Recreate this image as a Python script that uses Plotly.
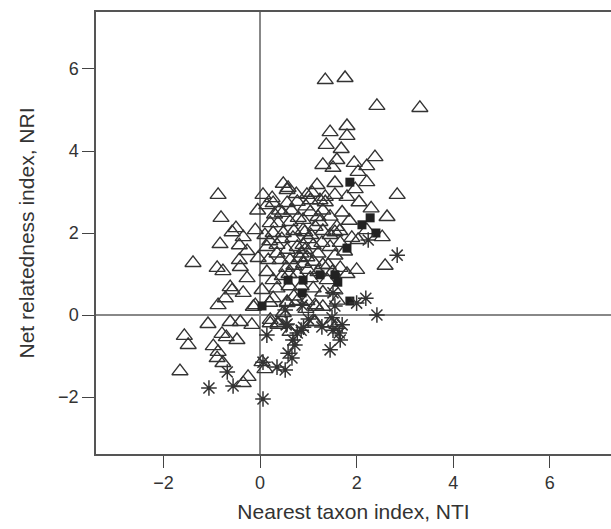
import plotly.graph_objects as go

# Open triangles
tri_x = [1.35, 1.76, 2.42, 3.31, 1.45, 1.80, 1.80, 1.37, 1.68, 1.59, 1.30, 1.51, 1.95, 2.38, 2.21, 2.03,
         1.55, 2.21, 1.97, 0.48, 0.58, 1.18, 2.84, 0.06, 0.97, 1.08, 1.35, 1.55, 1.80,
         2.63, 2.53, 2.59, 2.21, 2.03, 1.90, 1.59, 1.55, 1.28, 1.45, 1.66, 1.04, 1.24, 1.35,
         1.04, 1.20, 1.24, 1.14, 0.89, 0.93, 0.89, 0.93, 0.97, 1.30, 1.41, 1.66, 0.99, 1.04, 1.39, 1.14, 1.14,
         0.14, 0.27, 0.56, 0.56, 0.77, 0.46, 0.37, 0.21, 0.62, 0.79, 0.10, 0.27, 0.48, 0.68, 0.89,
         0.14, 0.35, 0.56, 0.77, 0.85, -0.04, 0.17, 0.41, 0.62, 0.83, 0.14, 0.27, 0.46, 0.77, 0.04,
         0.27, 0.56, -0.14, 0.21, 0.37,
         -1.39, -0.87, -0.81, -0.83, -0.89, -0.77, -0.58, -0.50, -0.43, -0.35, -0.27, -0.43, -0.41, -0.27,
         -0.62, -0.72, -0.58, -0.87, -0.35, -0.10, -1.08, -0.62, -0.41, -0.17, -1.57, -1.49, -0.79, -0.70,
         -0.48, -0.97, -0.87, -0.89, -0.77, -1.66, -0.25, -0.35, 0.10, 0.04, 0.21, 0.37, -0.10,
         0.56, 0.77, 0.97, 1.16, 1.12, 1.45, 1.59, 0.62, 0.48,
         0.30, 0.65, 0.95, 1.30, 1.45, 1.70, 1.85, 0.20, 0.45, 0.70, 1.05, 1.30, 1.45, 1.65, 1.75, 1.10,
         1.20, 1.55, 0.55, 0.70, 0.90, 1.10, 1.20, 1.50, 1.80, 2.00, 0.35, 0.60, 0.85, 1.10, 1.30, 1.55,
         0.20, 0.70, 0.95, 1.30, 1.60, 2.05, 2.30,
         0.25, 0.40, 0.75, -0.05, 0.35, 0.60, 1.00]
tri_y = [5.73, 5.78, 5.10, 5.05, 4.46, 4.61, 4.37, 4.15, 4.05, 3.78, 3.66, 3.59, 3.71, 3.85, 3.63, 3.49,
         3.22, 3.24, 3.07, 3.20, 3.10, 3.17, 2.93, 2.93, 2.93, 2.98, 2.88, 2.93, 2.88,
         2.39, 1.90, 1.20, 2.07, 1.83, 1.88, 2.15, 2.02, 1.76, 1.66, 1.76, 2.80, 2.80, 2.75,
         2.51, 2.39, 2.27, 2.15, 2.32, 2.02, 1.71, 1.59, 1.41, 1.22, 1.22, 1.15, 1.10, 0.90, 0.85, 0.24, -0.17,
         2.68, 2.73, 3.05, 2.73, 2.76, 2.49, 2.24, 2.24, 2.27, 2.37, 1.95, 2.00, 2.00, 1.88, 2.07,
         1.66, 1.71, 1.59, 1.66, 1.50, 1.39, 1.34, 1.34, 1.34, 1.39, 1.05, 0.85, 0.95, 1.00, 0.61,
         0.41, 0.32, 0.20, -0.12, -0.20,
         1.27, 2.93, 2.37, 1.73, 1.15, 1.07, 2.02, 2.12, 1.70, 1.90, 1.56, 1.34, 1.17, 0.90,
         0.68, 0.41, 0.60, 0.24, 0.54, 0.24, -0.22, -0.17, -0.17, -0.24, -0.51, -0.73, -0.46, -0.54,
         -0.61, -0.76, -0.90, -1.05, -1.17, -1.37, -1.51, -1.66, -1.32, -1.15, -0.20, -0.24, 2.07,
         0.29, 0.34, 0.34, 0.20, -0.17, -0.20, -0.24, -0.41, 0.05,
         2.45, 2.55, 2.65, 2.55, 2.40, 2.50, 2.30, 1.80, 1.85, 2.05, 1.95, 2.05, 1.95, 2.05, 1.55, 1.70,
         1.50, 1.45, 1.15, 1.20, 1.25, 1.30, 1.05, 1.05, 1.00, 1.10, 0.65, 0.70, 0.70, 0.65, 0.55, 0.60,
         0.30, 0.45, 0.15, 0.20, 0.35, 2.75, 2.60,
         2.85, 2.55, 2.95, 2.55, 1.50, 1.00, 1.85]

# Filled squares
sq_x = [1.86, 2.28, 2.11, 2.40, 1.80, 1.55, 1.61, 1.24, 0.89, 0.58, 0.87, 1.86, 0.04]
sq_y = [3.24, 2.37, 2.20, 2.00, 1.63, 0.98, 0.80, 0.98, 0.85, 0.85, 0.54, 0.34, 0.22]

# Asterisks
ast_x = [2.84, 2.24, 1.51, 1.55, 2.00, 2.19, 2.42, 0.52, 0.87, 0.54, 0.85, 0.68, 0.72, 0.58, 0.66, 0.52,
         1.28, 1.49, 1.51, 1.70, 1.64, 1.66, 1.45, -0.68, -1.06, -0.56, 0.06, 0.06, 0.56, 0.14, 0.35,
         0.77, 0.90, 1.00]
ast_y = [1.46, 1.83, 0.54, 0.22, 0.29, 0.41, 0.00, 0.12, 0.24, -0.24, -0.37, -0.61, -0.73, -0.93, -1.05, -1.34,
         -0.29, -0.07, -0.37, -0.24, -0.44, -0.61, -0.85, -1.39, -1.78, -1.73, -2.05, -1.15, -0.22, -0.49, -1.27,
         -0.44, -0.30, -0.10]

x_ticks = [-2, 0, 2, 4, 6]
y_ticks = [-2, 0, 2, 4, 6]

ink = "#333333"
fig = go.Figure()
fig.add_trace(go.Scatter(x=tri_x, y=tri_y, mode="markers",
                         marker=dict(symbol="triangle-up-open", size=14, color=ink, line=dict(width=1.4, color=ink))))
fig.add_trace(go.Scatter(x=sq_x, y=sq_y, mode="markers",
                         marker=dict(symbol="square", size=9, color="#222222", line=dict(width=0))))
fig.add_trace(go.Scatter(x=ast_x, y=ast_y, mode="markers",
                         marker=dict(symbol="asterisk-open", size=13, color=ink, line=dict(width=1.5, color=ink))))

font = "Liberation Sans, Arial, sans-serif"
fig.update_layout(
    width=611, height=529,
    margin=dict(l=96, r=0, t=12, b=75),
    paper_bgcolor="white", plot_bgcolor="white",
    showlegend=False,
    font=dict(family=font, color=ink, size=18),
    xaxis=dict(range=[-3.4, 7.27], tickvals=x_ticks, ticks="outside", ticklen=12, tickwidth=1,
               tickcolor="#444", showline=True, linecolor="#555", linewidth=1.5, mirror=True,
               showgrid=False, zeroline=True, zerolinecolor="#888", zerolinewidth=1.5,
               title=dict(text="Nearest taxon index, NTI", font=dict(size=21, color=ink), standoff=12),
               tickfont=dict(size=18, color=ink)),
    yaxis=dict(range=[-3.39, 7.39], tickvals=y_ticks, ticks="outside", ticklen=12, tickwidth=1,
               tickcolor="#444", showline=True, linecolor="#555", linewidth=1.5,
               showgrid=False, zeroline=True, zerolinecolor="#888", zerolinewidth=1.5,
               title=dict(text="Net relatedness index, NRI", font=dict(size=21, color=ink), standoff=18),
               tickfont=dict(size=18, color=ink)),
)
fig.write_html("out.html", config={"displayModeBar": False},
               post_script="document.body.style.margin='0';")
